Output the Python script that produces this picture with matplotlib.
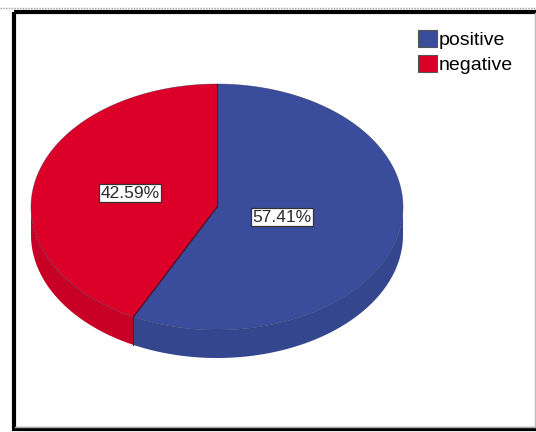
import numpy as np
import matplotlib.pyplot as plt
from matplotlib.patches import Polygon, Rectangle, Patch

labels = ['positive', 'negative']
values = [57.41, 42.59]
colors = ['#3a4c9c', '#dc0028']
side_colors = ['#33468e', '#c80025']
label_pos = [0.36, 0.48]

cx, cy = 217, 207
rx, ry = 186, 123
depth = 28


def ellipse_pts(t1, t2, dy=0, n=200):
    t = np.radians(np.linspace(t1, t2, n))
    return np.column_stack([cx + rx * np.cos(t), cy - ry * np.sin(t) + dy])


fig = plt.figure(figsize=(5.36, 4.32), dpi=100)
ax = fig.add_axes([0, 0, 1, 1])
ax.set_xlim(0, 536)
ax.set_ylim(432, 0)
ax.axis('off')

# slices go clockwise from 12 o'clock
total = sum(values)
angles = []
start = 90.0
for v in values:
    end = start - v / total * 360.0
    angles.append((end, start))
    start = end

# sides (front half only, 180..360 deg)
for (a1, a2), sc in zip(angles, side_colors):
    lo, hi = a1 % 360, a2 % 360
    if hi <= lo:
        hi += 360
    for base in (180, 540):
        s1, s2 = max(lo, base), min(hi, base + 180)
        if s2 > s1:
            top = ellipse_pts(s1, s2)
            bot = ellipse_pts(s2, s1, dy=depth)
            ax.add_patch(Polygon(np.vstack([top, bot]), closed=True,
                                 facecolor=sc, edgecolor='none', zorder=1))

# top faces
for (a1, a2), c in zip(angles, colors):
    pts = np.vstack([[cx, cy], ellipse_pts(a1, a2)])
    ax.add_patch(Polygon(pts, closed=True, facecolor=c, edgecolor='none',
                         zorder=2))
    for a in (a1, a2):
        r = np.radians(a)
        ax.plot([cx, cx + rx * np.cos(r)], [cy, cy - ry * np.sin(r)],
                color='#5a1028', lw=0.8, zorder=3)

# thin rim line along the top edge
rim = ellipse_pts(0, 360, n=400)
ax.plot(rim[:, 0], rim[:, 1], color='#2a2a50', lw=0.5, alpha=0.5, zorder=3)

# vertical edge at the slice boundary on the front side
r = np.radians(angles[0][0])
ex, ey = cx + rx * np.cos(r), cy - ry * np.sin(r)
ax.plot([ex, ex], [ey, ey + depth], color='#5a1028', lw=0.8, zorder=3)

# percentage labels
for (a1, a2), v, f in zip(angles, values, label_pos):
    m = np.radians((a1 + a2) / 2)
    tx = cx + rx * f * np.cos(m)
    ty = cy - ry * f * np.sin(m)
    ax.text(tx, ty, f'{v:.2f}%', ha='center', va='center', fontsize=12.5,
            family='Liberation Sans', color='#2a2a2a', zorder=5,
            bbox=dict(boxstyle='square,pad=0.08', facecolor='white',
                      edgecolor='#333333', linewidth=0.9))

# legend
handles = [Patch(facecolor=c, edgecolor='#555555', linewidth=0.8) for c in colors]
fig.legend(handles, labels, loc='upper left', bbox_to_anchor=(0.78, 0.93),
           frameon=False, prop={'family': 'Liberation Sans', 'size': 14},
           handlelength=0.95, handleheight=0.95, handletextpad=0.12,
           labelspacing=0.3, borderaxespad=0, borderpad=0)

# frame around the chart
ax.add_patch(Rectangle((13.5, 11.5), 600, 417.5, fill=False, edgecolor='black',
                       linewidth=3, zorder=10))
ax.plot([534.5, 534.5], [13, 427], color='#bbbbbb', lw=1, zorder=10)
ax.plot([15, 534], [426.5, 426.5], color='#aaaaaa', lw=1, zorder=10)
ax.plot([0, 536], [7.5, 7.5], color='#999999', lw=1, ls=(0, (1, 1)), zorder=10)

fig.savefig('out.png', dpi=100)
